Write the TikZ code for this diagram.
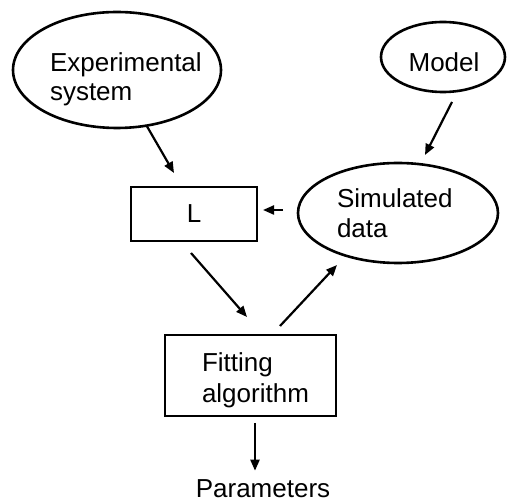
\documentclass[tikz,border=0pt]{standalone}
\usepackage{fontspec}
\setmainfont{Liberation Sans}
\usetikzlibrary{shapes.geometric,arrows.meta}
\begin{document}
\begin{tikzpicture}[x=1pt,y=-1pt,
  outline/.style={draw=black, line width=2.6pt},
  oval/.style={outline, ellipse, inner sep=0pt, outer sep=0pt},
  box/.style={outline, rectangle, inner sep=0pt, outer sep=0pt},
  lbl/.style={inner sep=0pt, outer sep=0pt, align=left},
  link/.style={line width=2.2pt, -{Triangle[length=11pt,width=9pt]}},
  every node/.style={font=\fontsize{26}{29}\selectfont}
]
\useasboundingbox (0,0) rectangle (509,502);

% ovals
\node[oval, minimum width=208pt, minimum height=116pt] (exp) at (117,70) {};
\node[lbl, anchor=north west, font=\fontsize{26}{29}\selectfont] (expt) at (50,52.5) {Experimental\\system};

\node[oval, minimum width=124pt, minimum height=70pt] (model) at (443,57) {};
\node[lbl, anchor=base] (modelt) at (444,72) {Model};

\node[oval, minimum width=200pt, minimum height=100pt] (sim) at (398,213) {};
\node[lbl, anchor=north west, font=\fontsize{26}{30}\selectfont] (simt) at (337,188.4) {Simulated\\data};

% boxes
\node[box, minimum width=126pt, minimum height=54pt] (L) at (194,214) {L};
\node[box, minimum width=171pt, minimum height=81pt] (fit) at (250.5,375.5) {};
\node[lbl, anchor=north west, font=\fontsize{26}{31}\selectfont] (fitt) at (202,352.4) {Fitting\\algorithm};

% output
\node[lbl, anchor=base] (par) at (263,498) {Parameters};

% connectors
\draw[link] (exp.-62) -- ([shift={(-20,-14)}]L.north);
\draw[link] ([shift={(9,10)}]model.south) -- ([shift={(27,-8)}]sim.north);
\draw[link] ([shift={(-15,-3)}]sim.west) -- ([shift={(6,-4)}]L.east);
\draw[link] ([shift={(-3,12)}]L.south) -- ([shift={(-3.5,-18)}]fit.north);
\draw[link] ([shift={(29.5,-9)}]fit.north) -- ([shift={(-61,2)}]sim.south);
\draw[link] ([shift={(4.5,7)}]fit.south) -- ([shift={(-8,-9.4)}]par.north);
\end{tikzpicture}
\end{document}
